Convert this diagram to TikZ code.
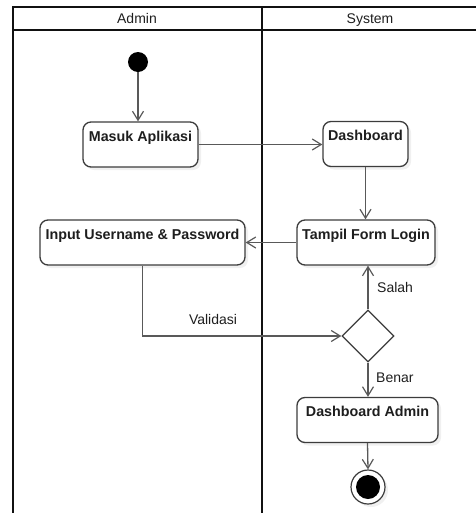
\documentclass[tikz,border=0pt]{standalone}
\usepackage{fontspec}
\setmainfont{Liberation Sans}
\usetikzlibrary{arrows.meta,shapes.geometric,shadows}
\definecolor{lane}{HTML}{111111}
\definecolor{nodeline}{HTML}{3C3C3C}
\definecolor{arrowc}{HTML}{595959}
\definecolor{txt}{HTML}{1E1E1E}
\tikzset{
  lanebox/.style={line width=2pt, draw=lane},
  actbox/.style={draw=nodeline, line width=1.3pt, rounded corners=8pt, fill=white,
    font=\fontsize{14.3}{16}\selectfont\bfseries, text=txt, align=center,
    inner xsep=2pt, inner ysep=4pt, text height=15pt, text depth=22pt,
    drop shadow={shadow xshift=3pt, shadow yshift=-3pt, opacity=0.12}},
  flow/.style={draw=arrowc, line width=1.3pt, -{Straight Barb[length=9pt,width=11pt,line width=1.2pt]}},
  lbl/.style={font=\fontsize{14}{16}\selectfont, text=txt, inner sep=0pt},
  decision/.style={diamond, draw=nodeline, line width=1.3pt, fill=white, minimum width=52pt, minimum height=52pt, inner sep=0pt},
}
\begin{document}
\begin{tikzpicture}[x=1pt,y=-1pt]
\useasboundingbox (0,0) rectangle (476,517);
% swimlanes
\draw[lanebox] (476,7) -- (13,7) -- (13,513);
\draw[lanebox] (13,30) -- (476,30);
\draw[lanebox] (262,7) -- (262,513);
\node[lbl, anchor=base] (hadmin) at (137,23) {Admin};
\node[lbl, anchor=base] (hsys) at (370,23) {System};
% nodes
\node[circle, fill=black, minimum size=20pt, inner sep=0pt] (init) at (138,62) {};
\node[actbox, minimum width=115pt] (masuk) at (140.5,144.5) {Masuk Aplikasi};
\node[actbox, minimum width=85pt] (dash) at (365.5,144) {Dashboard};
\node[actbox, minimum width=205pt] (input) at (142.5,242.5) {Input Username \& Password};
\node[actbox, minimum width=138pt] (tampil) at (366,242.5) {Tampil Form Login};
\node[decision] (dia) at (368,336) {};
\node[actbox, minimum width=141pt] (da) at (367.5,420) {Dashboard Admin};
\node[circle, draw=nodeline, line width=1.2pt, fill=white, minimum size=34pt, inner sep=0pt,
  drop shadow={shadow xshift=3pt, shadow yshift=-3pt, opacity=0.12}] (final) at (368,487) {};
\node[circle, fill=black, minimum size=24pt, inner sep=0pt] (finaldot) at (final.center) {};
% connectors
\draw[flow] (init) -- (init |- masuk.north);
\draw[flow] (masuk.east) -- (dash.west |- masuk.east);
\draw[flow] (dash.south) -- (dash.south |- tampil.north);
\draw[flow] (tampil.west) -- (input.east);
\draw[flow] (input.south) |- (dia.west);
\draw[flow] (dia.north) -- (dia.north |- tampil.south);
\draw[flow] (dia.south) -- (dia.south |- da.north);
\draw[flow] (da.south) -- (final.north);
% labels
\node[lbl] (lvalid) at (213,319) {Validasi};
\node[lbl, anchor=west] (lsalah) at (377,287) {Salah};
\node[lbl, anchor=west] (lbenar) at (376,378) {Benar};
\end{tikzpicture}
\end{document}
